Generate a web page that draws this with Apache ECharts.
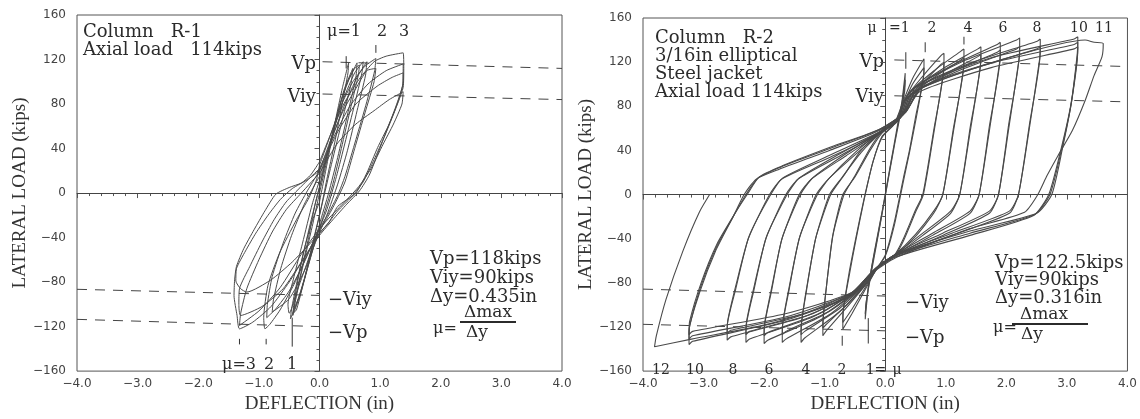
<!DOCTYPE html>
<html>
<head>
<meta charset="utf-8">
<script src="https://cdn.jsdelivr.net/npm/echarts@6/dist/echarts.min.js"></script>
<style>
  html, body { margin: 0; padding: 0; background: #fff; }
  #chart { width: 1140px; height: 419px; }
</style>
</head>
<body>
<div id="chart"></div>
<script>
// axis ranges
const xRange = [-4, 4];
const yRange = [-160, 160];

// ---------- Column R-1 hysteresis loops (deflection in, load kips) ----------
const r1Mu1a = [[0.0,-8],[0.12,25],[0.25,62],[0.38,95],[0.48,117],[0.47,108],[0.38,82],[0.25,45],[0.12,12],[0.02,-15],[-0.1,-42],[-0.24,-75],[-0.38,-100],[-0.48,-113],[-0.46,-104],[-0.38,-82],[-0.25,-50],[-0.12,-25],[0.0,-8]];
const r1Mu1b = [[0.0,5],[0.15,40],[0.3,72],[0.45,98],[0.58,112],[0.66,115],[0.64,106],[0.52,78],[0.36,40],[0.22,8],[0.08,-18],[-0.05,-40],[-0.2,-68],[-0.33,-92],[-0.42,-104],[-0.4,-96],[-0.3,-70],[-0.18,-40],[-0.08,-12],[0.0,5]];
const r1Mu1c = [[0.0,0],[0.2,48],[0.4,92],[0.55,112],[0.52,98],[0.35,60],[0.18,22],[0.0,-20],[-0.18,-62],[-0.38,-105],[-0.44,-108],[-0.3,-72],[-0.12,-30],[0.0,0]];
const r1Mu1d = [[0.05,20],[0.2,50],[0.4,85],[0.58,108],[0.72,118],[0.7,108],[0.58,80],[0.42,45],[0.28,15],[0.12,-15],[-0.05,-38],[-0.2,-62],[-0.35,-85],[-0.5,-108],[-0.52,-100],[-0.42,-75],[-0.28,-45],[-0.12,-10],[0.05,20]];
const r1Mu1e = [[0.02,10],[0.18,45],[0.34,80],[0.5,104],[0.62,117],[0.6,104],[0.46,70],[0.3,32],[0.15,0],[0.0,-28],[-0.15,-58],[-0.3,-88],[-0.44,-110],[-0.42,-98],[-0.32,-68],[-0.18,-34],[-0.05,-5],[0.02,10]];
const r1Mu2a = [[0.0,25],[0.18,52],[0.35,78],[0.55,100],[0.75,114],[0.93,121],[0.91,110],[0.78,82],[0.6,48],[0.42,15],[0.3,-2],[0.15,-18],[0.0,-32],[-0.2,-55],[-0.42,-82],[-0.65,-105],[-0.82,-118],[-0.9,-122],[-0.92,-112],[-0.85,-83],[-0.66,-54],[-0.38,-24],[-0.17,-4],[-0.05,12],[0.0,25]];
const r1Mu2b = [[0.0,20],[0.2,50],[0.4,75],[0.6,94],[0.78,110],[0.93,112],[0.9,100],[0.75,72],[0.58,40],[0.42,10],[0.25,-10],[0.1,-25],[-0.05,-38],[-0.25,-62],[-0.5,-88],[-0.72,-104],[-0.87,-112],[-0.86,-100],[-0.78,-75],[-0.6,-45],[-0.4,-18],[-0.2,2],[0.0,20]];
const r1Mu2c = [[0.0,15],[0.2,48],[0.42,80],[0.62,104],[0.78,118],[0.76,106],[0.62,74],[0.46,38],[0.3,8],[0.12,-20],[-0.05,-42],[-0.25,-70],[-0.5,-95],[-0.78,-107],[-0.76,-96],[-0.64,-68],[-0.46,-38],[-0.25,-10],[0.0,15]];
const r1Mu3a = [[0.0,28],[0.2,55],[0.4,80],[0.65,102],[0.9,118],[1.1,123],[1.38,126],[1.39,112],[1.38,95],[1.3,82],[1.14,61],[0.96,41],[0.78,18],[0.6,0],[0.3,-12],[0.16,-26],[0.0,-36],[-0.25,-58],[-0.5,-80],[-0.8,-102],[-1.1,-116],[-1.32,-122],[-1.36,-110],[-1.41,-92],[-1.4,-78],[-1.37,-66],[-1.25,-50],[-1.08,-33],[-0.9,-16],[-0.72,-1],[-0.5,5],[-0.3,9],[-0.15,16],[0.0,28]];
const r1Mu3b = [[0.0,22],[0.25,52],[0.5,78],[0.8,98],[1.1,110],[1.38,116],[1.38,100],[1.3,84],[1.15,62],[0.98,38],[0.82,16],[0.66,2],[0.45,-10],[0.22,-24],[0.0,-38],[-0.3,-62],[-0.6,-86],[-0.95,-102],[-1.3,-110],[-1.33,-100],[-1.32,-86],[-1.15,-66],[-0.95,-44],[-0.75,-24],[-0.55,-8],[-0.3,6],[0.0,22]];
const r1Mu3c = [[0.0,20],[0.3,55],[0.6,80],[0.95,96],[1.2,104],[1.38,108],[1.37,96],[1.25,75],[1.08,52],[0.9,30],[0.72,10],[0.52,-4],[0.3,-16],[0.1,-30],[-0.15,-45],[-0.45,-62],[-0.8,-78],[-1.2,-89],[-1.3,-86],[-1.38,-79],[-1.37,-68],[-1.22,-52],[-1.05,-36],[-0.85,-20],[-0.65,-6],[-0.45,4],[-0.2,12],[0.0,20]];
const r1Mu3d = [[0.0,18],[0.3,45],[0.6,62],[0.9,74],[1.15,84],[1.38,91],[1.36,80],[1.22,62],[1.05,44],[0.85,22],[0.65,6],[0.45,-6],[0.2,-20],[0.0,-32],[-0.3,-55],[-0.65,-85],[-1.0,-106],[-1.32,-119],[-1.3,-108],[-1.2,-86],[-1.0,-60],[-0.78,-35],[-0.55,-15],[-0.3,0],[0.0,18]];
const r1Loops = [r1Mu1a, r1Mu1b, r1Mu1c, r1Mu1d, r1Mu1e, r1Mu2a, r1Mu2b, r1Mu2c, r1Mu3a, r1Mu3b, r1Mu3c, r1Mu3d];

// R-1 reference lines (Vp, Viy) and mu markers
const r1VpLine = [[0.05,118],[4.0,112]];
const r1ViyLine = [[0.05,89],[4.0,84]];
const r1NegViyLine = [[-4.0,-86.5],[0.0,-92]];
const r1NegVpLine = [[-4.0,-113.5],[0.0,-120]];
const r1Marks = [[[0.44,112],[0.44,123]], [[0.93,126],[0.93,133]], [[-0.45,-112],[-0.45,-138]], [[-1.32,-131],[-1.32,-136]], [[-0.88,-131],[-0.88,-136]]];

// ---------- Column R-2 hysteresis loops ----------
const r2Mu1a = [[0.33,110],[0.32,98],[0.2,62],[0.08,25],[-0.05,-15],[-0.18,-52],[-0.28,-85],[-0.33,-113],[-0.32,-100],[-0.22,-65],[-0.08,-25],[0.05,15],[0.18,55],[0.27,82],[0.33,110]];
const r2Mu1b = [[0.33,104],[0.32,93],[0.22,64],[0.1,30],[-0.03,-10],[-0.16,-48],[-0.27,-80],[-0.33,-108],[-0.31,-96],[-0.2,-62],[-0.06,-20],[0.07,20],[0.19,56],[0.28,84],[0.33,104]];
const r2Mu2a = [[0.64,123],[0.64,112],[0.5,70],[0.4,40],[0.3,15],[0.15,-25],[0.0,-55],[-0.15,-68],[-0.35,-88],[-0.55,-108],[-0.7,-122],[-0.7,-110],[-0.6,-75],[-0.48,-40],[-0.35,-5],[-0.2,30],[-0.05,52],[0.15,64],[0.3,85],[0.45,105],[0.64,123]];
const r2Mu2b = [[0.64,115],[0.63,105],[0.5,66],[0.4,38],[0.3,12],[0.15,-28],[0.0,-56],[-0.15,-68],[-0.35,-86],[-0.55,-104],[-0.7,-116],[-0.69,-104],[-0.6,-72],[-0.48,-38],[-0.35,-4],[-0.2,30],[-0.05,53],[0.15,64],[0.3,82],[0.45,100],[0.64,115]];
const r2Mu3a = [[0.97,128],[0.97,117],[0.8,58],[0.62,0],[0.5,-14],[0.3,-40],[0.15,-55],[-0.1,-64],[-0.3,-80],[-0.6,-100],[-0.98,-124],[-1.03,-128],[-1.03,-116],[-0.97,-83],[-0.87,-38],[-0.7,0],[-0.5,16],[-0.25,40],[-0.05,56],[0.2,66],[0.32,86],[0.6,106],[0.92,126],[0.97,128]];
const r2Mu3b = [[0.97,120],[0.96,110],[0.8,55],[0.63,0],[0.5,-16],[0.3,-42],[0.15,-56],[-0.1,-65],[-0.3,-80],[-0.6,-98],[-0.98,-118],[-1.03,-121],[-1.02,-110],[-0.96,-78],[-0.86,-36],[-0.68,0],[-0.5,17],[-0.25,42],[-0.05,57],[0.2,67],[0.3,84],[0.6,100],[0.92,118],[0.97,120]];
const r2Mu4a = [[1.3,132],[1.3,120],[1.12,58],[0.95,0],[0.8,-15],[0.5,-36],[0.15,-55],[-0.12,-65],[-0.35,-82],[-0.75,-106],[-1.33,-130],[-1.39,-134],[-1.39,-122],[-1.3,-87],[-1.15,-40],[-0.92,0],[-0.72,15],[-0.4,38],[-0.05,57],[0.22,68],[0.36,90],[0.8,112],[1.25,130],[1.3,132]];
const r2Mu4b = [[1.3,124],[1.29,113],[1.12,55],[0.95,0],[0.8,-17],[0.5,-38],[0.15,-56],[-0.12,-66],[-0.33,-81],[-0.75,-103],[-1.33,-124],[-1.39,-127],[-1.38,-115],[-1.29,-82],[-1.14,-38],[-0.9,0],[-0.7,16],[-0.4,40],[-0.05,58],[0.21,67],[0.34,86],[0.8,106],[1.25,122],[1.3,124]];
const r2Mu5a = [[1.58,134],[1.58,123],[1.4,60],[1.23,0],[1.08,-15],[0.62,-35],[0.15,-55],[-0.14,-66],[-0.4,-84],[-0.9,-108],[-1.64,-131],[-1.7,-134],[-1.7,-122],[-1.59,-87],[-1.42,-40],[-1.14,0],[-0.94,14],[-0.5,36],[-0.05,57],[0.25,70],[0.4,92],[0.95,114],[1.53,132],[1.58,134]];
const r2Mu5b = [[1.58,127],[1.57,116],[1.4,56],[1.23,0],[1.08,-17],[0.62,-37],[0.15,-56],[-0.13,-66],[-0.37,-83],[-0.9,-105],[-1.64,-124],[-1.7,-127],[-1.69,-115],[-1.58,-82],[-1.41,-38],[-1.12,0],[-0.92,15],[-0.5,38],[-0.05,58],[0.23,68],[0.38,88],[0.95,108],[1.53,125],[1.58,127]];
const r2Mu6a = [[1.9,138],[1.9,126],[1.72,62],[1.55,0],[1.4,-15],[0.78,-35],[0.15,-55],[-0.16,-67],[-0.45,-86],[-1.05,-110],[-1.94,-132],[-2.0,-135],[-2.0,-123],[-1.88,-88],[-1.71,-41],[-1.42,0],[-1.22,14],[-0.65,35],[-0.05,57],[0.28,72],[0.45,95],[1.1,117],[1.85,136],[1.9,138]];
const r2Mu6b = [[1.9,131],[1.89,120],[1.72,58],[1.55,0],[1.4,-17],[0.78,-37],[0.15,-56],[-0.15,-67],[-0.42,-84],[-1.05,-107],[-1.94,-125],[-2.0,-128],[-1.99,-116],[-1.87,-83],[-1.7,-39],[-1.4,0],[-1.2,15],[-0.65,37],[-0.05,58],[0.26,70],[0.42,90],[1.1,111],[1.85,129],[1.9,131]];
const r2Mu7a = [[2.22,142],[2.22,130],[2.04,64],[1.87,0],[1.72,-15],[0.95,-35],[0.15,-55],[-0.18,-68],[-0.5,-88],[-1.2,-111],[-2.24,-131],[-2.3,-134],[-2.3,-122],[-2.17,-87],[-1.97,-40],[-1.64,0],[-1.44,14],[-0.75,35],[-0.05,57],[0.3,74],[0.5,97],[1.25,120],[2.17,140],[2.22,142]];
const r2Mu7b = [[2.22,134],[2.21,123],[2.04,60],[1.87,0],[1.72,-17],[0.95,-37],[0.15,-56],[-0.17,-68],[-0.47,-86],[-1.2,-108],[-2.24,-124],[-2.3,-127],[-2.29,-115],[-2.16,-82],[-1.96,-38],[-1.62,0],[-1.42,15],[-0.75,37],[-0.05,58],[0.29,72],[0.48,92],[1.25,113],[2.17,132],[2.22,134]];
const r2Mu8a = [[2.56,141],[2.56,129],[2.38,63],[2.2,0],[2.05,-15],[1.1,-35],[0.15,-55],[-0.2,-69],[-0.55,-90],[-1.35,-111],[-2.55,-129],[-2.61,-132],[-2.61,-120],[-2.47,-86],[-2.26,-40],[-1.91,0],[-1.71,14],[-0.9,34],[-0.05,57],[0.32,75],[0.55,98],[1.45,120],[2.51,139],[2.56,141]];
const r2Mu8b = [[2.56,134],[2.55,123],[2.38,60],[2.2,0],[2.05,-17],[1.1,-37],[0.15,-56],[-0.19,-69],[-0.52,-88],[-1.35,-108],[-2.55,-123],[-2.61,-126],[-2.6,-114],[-2.46,-81],[-2.25,-38],[-1.89,0],[-1.69,15],[-0.9,36],[-0.05,58],[0.31,73],[0.52,94],[1.45,114],[2.51,132],[2.56,134]];
const r2Mu10a = [[3.18,143],[3.18,131],[3.08,85],[2.92,40],[2.75,0],[2.5,-17],[1.4,-33],[0.15,-55],[-0.22,-70],[-0.6,-92],[-1.65,-114],[-3.18,-133],[-3.24,-136],[-3.24,-124],[-3.06,-88],[-2.8,-51],[-2.52,-21],[-2.33,0],[-2.13,14],[-1.75,23],[-0.92,40],[-0.1,58],[0.35,76],[0.6,99],[1.75,124],[3.12,141],[3.18,143]];
const r2Mu10b = [[3.18,138],[3.17,127],[3.07,82],[2.9,38],[2.72,0],[2.47,-18],[1.4,-35],[0.15,-56],[-0.21,-70],[-0.58,-90],[-1.65,-111],[-3.18,-128],[-3.24,-131],[-3.23,-119],[-3.05,-84],[-2.79,-48],[-2.5,-19],[-2.3,0],[-2.1,15],[-1.72,25],[-0.9,42],[-0.1,59],[0.34,75],[0.58,96],[1.75,119],[3.12,136],[3.18,138]];
const r2Mu10c = [[3.18,134],[3.17,123],[3.06,80],[2.88,36],[2.7,0],[2.45,-19],[1.4,-37],[0.15,-57],[-0.2,-70],[-0.56,-89],[-1.65,-108],[-3.18,-124],[-3.24,-127],[-3.23,-115],[-3.04,-80],[-2.78,-45],[-2.48,-17],[-2.28,0],[-2.08,16],[-1.7,26],[-0.9,43],[-0.1,59],[0.33,74],[0.56,93],[1.75,115],[3.12,132],[3.18,134]];
const r2Final = [[-0.05,58],[0.36,77],[0.62,98],[1.9,122],[3.3,140],[3.45,138],[3.6,137],[3.58,125],[3.45,108],[3.3,85],[3.09,58],[2.85,35],[2.67,17],[2.52,0],[2.3,-16],[1.39,-31],[0.18,-57],[-0.24,-72],[-0.65,-94],[-1.9,-117],[-3.2,-131],[-3.81,-138],[-3.78,-128],[-3.62,-95],[-3.34,-51],[-3.07,-16],[-2.9,0]];
const r2Loops = [r2Mu1a, r2Mu1b, r2Mu2a, r2Mu2b, r2Mu3a, r2Mu3b, r2Mu4a, r2Mu4b, r2Mu5a, r2Mu5b, r2Mu6a, r2Mu6b, r2Mu7a, r2Mu7b, r2Mu8a, r2Mu8b, r2Mu10a, r2Mu10b, r2Mu10c, r2Final];

// R-2 reference lines and mu markers
const r2VpLine = [[0.15,122],[4.0,116]];
const r2ViyLine = [[0.15,89.5],[4.0,84]];
const r2NegViyLine = [[-4.0,-85.7],[0.0,-92]];
const r2NegVpLine = [[-4.0,-117.6],[0.0,-123.5]];
const r2Marks = [[[0.34,114],[0.34,129]], [[0.66,129],[0.66,138]], [[1.3,136],[1.3,143]], [[-0.28,-112],[-0.28,-135]], [[-0.71,-128],[-0.71,-137]]];

// ---------- annotation text (pixel layout) ----------
const SERIF = 'DejaVu Serif';
const r1Texts = [
  ['Column   R-1', 83, 32, 'left', 18],
  ['Axial load   114kips', 83, 50, 'left', 18],
  ['Vp', 316, 64, 'right', 18],
  ['Viy', 316, 97, 'right', 18],
  ['μ=1', 327, 32, 'left', 16],
  ['2', 382, 32, 'center', 16],
  ['3', 404, 32, 'center', 16],
  ['−Viy', 328, 300, 'left', 18],
  ['−Vp', 328, 333, 'left', 18],
  ['μ=3', 256, 365, 'right', 16],
  ['2', 269, 365, 'center', 16],
  ['1', 292, 365, 'center', 16],
  ['Vp=118kips', 430, 259, 'left', 18],
  ['Viy=90kips', 430, 278, 'left', 18],
  ['Δy=0.435in', 430, 297, 'left', 18],
  ['Δmax', 488, 313, 'center', 17],
  ['μ=', 433, 329, 'left', 16],
  ['Δy', 477, 333, 'center', 17]
];
const r2Texts = [
  ['Column   R-2', 655, 38, 'left', 18],
  ['3/16in elliptical', 655, 56, 'left', 18],
  ['Steel jacket', 655, 74, 'left', 18],
  ['Axial load 114kips', 655, 92, 'left', 18],
  ['Vp', 884, 62, 'right', 18],
  ['Viy', 884, 97, 'right', 18],
  ['μ', 872, 28, 'center', 14],
  ['=1', 889, 28, 'left', 14],
  ['2', 932, 28, 'center', 14],
  ['4', 968, 28, 'center', 14],
  ['6', 1003, 28, 'center', 14],
  ['8', 1037, 28, 'center', 14],
  ['10', 1079, 28, 'center', 14],
  ['11', 1104, 28, 'center', 14],
  ['12', 661, 370, 'center', 14],
  ['10', 695, 370, 'center', 14],
  ['8', 733, 370, 'center', 14],
  ['6', 769, 370, 'center', 14],
  ['4', 806, 370, 'center', 14],
  ['2', 842, 370, 'center', 14],
  ['1=', 876, 370, 'center', 14],
  ['μ', 897, 370, 'center', 14],
  ['−Viy', 905, 303, 'left', 18],
  ['−Vp', 905, 338, 'left', 18],
  ['Vp=122.5kips', 995, 263, 'left', 18],
  ['Viy=90kips', 995, 280, 'left', 18],
  ['Δy=0.316in', 995, 298, 'left', 18],
  ['Δmax', 1044, 315, 'center', 17],
  ['μ=', 993, 328, 'left', 16],
  ['Δy', 1032, 335, 'center', 17]
];
const fractionBars = [[460, 516, 322], [1012, 1088, 324]];

const chart = echarts.init(document.getElementById('chart'));

const LINE = '#4a4a4a';
const AX = '#555';

function xAxisFor(gi) {
  return {
    type: 'value', gridIndex: gi, min: xRange[0], max: xRange[1], interval: 1,
    name: 'DEFLECTION (in)', nameLocation: 'middle', nameGap: 19,
    nameTextStyle: { fontFamily: 'Liberation Serif', fontSize: 19, color: '#333' },
    axisLine: { lineStyle: { color: AX } },
    axisTick: { length: 5, lineStyle: { color: AX } },
    minorTick: { show: true, splitNumber: 5, length: 3, lineStyle: { color: AX } },
    splitLine: { show: false },
    axisLabel: { formatter: v => v.toFixed(1).replace('-', '−'), fontFamily: 'DejaVu Sans', fontSize: 12, color: '#444', margin: 7 }
  };
}
function yAxisFor(gi) {
  return {
    type: 'value', gridIndex: gi, min: yRange[0], max: yRange[1], interval: 40,
    name: 'LATERAL LOAD (kips)', nameLocation: 'middle', nameGap: 46,
    nameTextStyle: { fontFamily: 'Liberation Serif', fontSize: 19, color: '#333' },
    axisLine: { lineStyle: { color: AX } },
    axisTick: { length: 5, lineStyle: { color: AX } },
    minorTick: { show: true, splitNumber: 4, length: 3, lineStyle: { color: AX } },
    splitLine: { show: false },
    axisLabel: { formatter: v => String(v).replace('-', '−'), fontFamily: 'DejaVu Sans', fontSize: 12, color: '#444', margin: 11 }
  };
}

function lineSeries(data, gi, style, smooth) {
  return {
    type: 'line', xAxisIndex: gi, yAxisIndex: gi, data: data,
    symbol: 'none', silent: true, animation: false, clip: true,
    smooth: smooth || false,
    lineStyle: Object.assign({ color: LINE, width: 1 }, style || {})
  };
}

const series = [];
[0, 1].forEach(gi => {
  const zero = lineSeries([], gi);
  zero.markLine = {
    silent: true, symbol: 'none', label: { show: false }, animation: false,
    lineStyle: { color: '#444', width: 1, type: 'solid' },
    data: [{ xAxis: 0 }, { yAxis: 0 }]
  };
  series.push(zero);
});
r1Loops.forEach(d => series.push(lineSeries(d, 0, null, 0.2)));
r2Loops.forEach(d => series.push(lineSeries(d, 1, { width: 1.1 }, 0.2)));
[r1VpLine, r1ViyLine, r1NegViyLine, r1NegVpLine].forEach(d => series.push(lineSeries(d, 0, { type: [10, 8], color: '#444' })));
[r2VpLine, r2ViyLine, r2NegViyLine, r2NegVpLine].forEach(d => series.push(lineSeries(d, 1, { type: [10, 8], color: '#444' })));
r1Marks.forEach(d => series.push(lineSeries(d, 0, { color: '#333' })));
r2Marks.forEach(d => series.push(lineSeries(d, 1, { color: '#333' })));

const graphic = [];
r1Texts.concat(r2Texts).forEach(t => {
  graphic.push({
    type: 'text', x: t[1], y: t[2], silent: true,
    style: { text: t[0], font: t[4] + 'px "' + SERIF + '"', fill: '#2b2b2b', align: t[3], verticalAlign: 'middle' }
  });
});
fractionBars.forEach(b => {
  graphic.push({ type: 'line', silent: true, shape: { x1: b[0], y1: b[2], x2: b[1], y2: b[2] }, style: { stroke: '#2b2b2b', lineWidth: 2 } });
});

chart.setOption({
  backgroundColor: '#ffffff',
  animation: false,
  grid: [
    { left: 77, right: 578, top: 15, bottom: 42, show: true, borderColor: AX, borderWidth: 1 },
    { left: 643, right: 12, top: 18, bottom: 40, show: true, borderColor: AX, borderWidth: 1 }
  ],
  xAxis: [xAxisFor(0), xAxisFor(1)],
  yAxis: [yAxisFor(0), yAxisFor(1)],
  series: series,
  graphic: graphic
});
</script>
</body>
</html>
